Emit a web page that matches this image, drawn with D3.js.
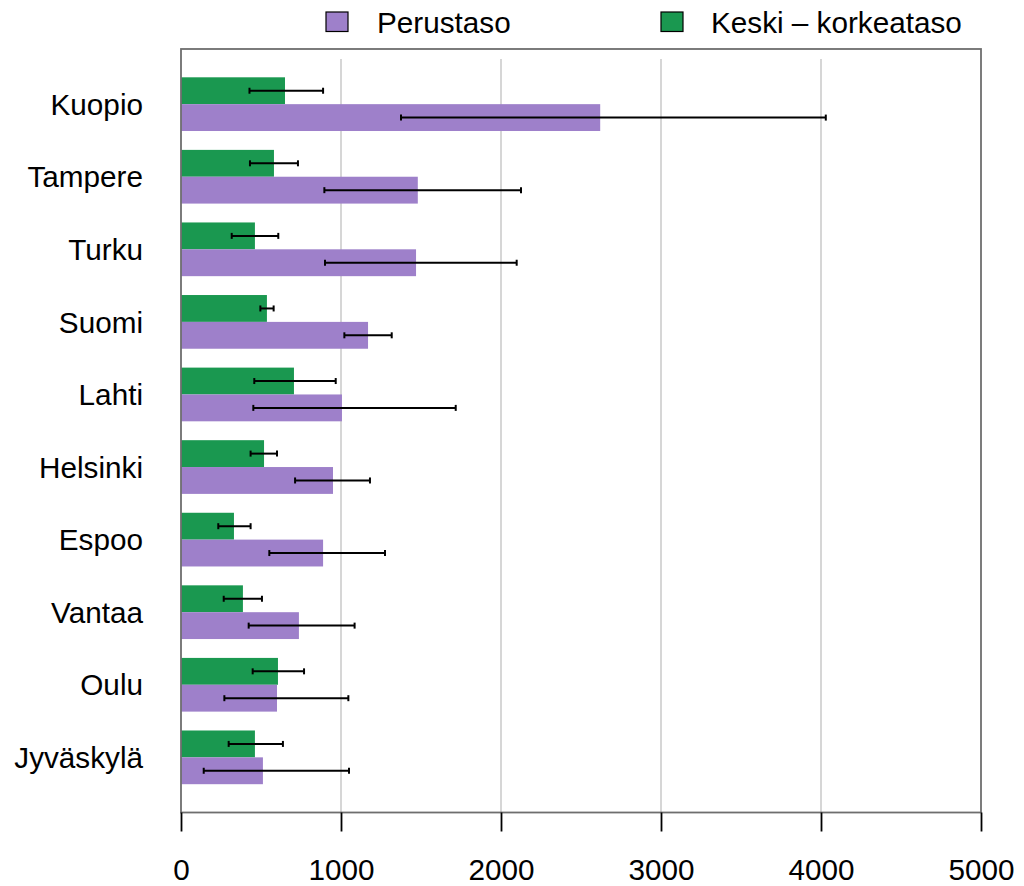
<!DOCTYPE html>
<html>
<head>
<meta charset="utf-8">
<script src="https://cdn.jsdelivr.net/npm/d3@7"></script>
<style>
  html, body { margin: 0; padding: 0; background: #fff; }
  svg { display: block; font-family: "Liberation Sans", Arial, Helvetica, sans-serif; }
</style>
</head>
<body>
<svg id="chart" width="1024" height="886"></svg>
<script>
const categories = ["Kuopio", "Tampere", "Turku", "Suomi", "Lahti", "Helsinki", "Espoo", "Vantaa", "Oulu", "Jyväskylä"];
const seriesNames = ["Perustaso", "Keski – korkeataso"];
const perustaso     = [2620, 1480, 1469, 1169, 1006, 950, 888, 737, 600, 512];
const perustasoLow  = [1375, 896, 900, 1021, 452, 713, 552, 423, 271, 142];
const perustasoHigh = [4030, 2125, 2098, 1317, 1717, 1181, 1275, 1085, 1046, 1050];
const keski         = [650, 581, 462, 537, 706, 519, 331, 387, 606, 462];
const keskiLow      = [428, 431, 317, 496, 458, 435, 233, 267, 448, 298];
const keskiHigh     = [888, 731, 608, 579, 967, 600, 435, 506, 769, 637];
const xTicks = [0, 1000, 2000, 3000, 4000, 5000];
const colors = ["#9e80ca", "#1a9850"];

(function () {
const svg = d3.select("#chart");
const pLeft = 181, pRight = 981, pTop = 49, pBottom = 812.5;
const fontSize = 29.7;

const x = d3.scaleLinear().domain([0, 5000]).range([pLeft, pRight]);
const y = d3.scaleBand().domain(categories).range([pTop, pBottom]).paddingInner(0.26).paddingOuter(0.39);
// within a group: green (Keski) on top, purple (Perustaso) below
const sub = d3.scaleBand().domain(["keski", "perustaso"]).range([0, y.bandwidth()]).padding(0);

const rows = categories.map((c, i) => ({
  cat: c,
  bars: [
    { key: "keski", v: keski[i], lo: keskiLow[i], hi: keskiHigh[i], color: colors[1] },
    { key: "perustaso", v: perustaso[i], lo: perustasoLow[i], hi: perustasoHigh[i], color: colors[0] }
  ]
}));

// grid lines
svg.append("g").selectAll("line").data(xTicks.filter(t => t > 0 && t < 5000)).join("line")
  .attr("x1", d => x(d)).attr("x2", d => x(d))
  .attr("y1", 59).attr("y2", pBottom)
  .attr("stroke", "#d6d6d6").attr("stroke-width", 2);

// bars
const g = svg.append("g").selectAll("g").data(rows).join("g")
  .attr("transform", d => `translate(0,${y(d.cat)})`);
g.selectAll("rect").data(d => d.bars).join("rect")
  .attr("x", x(0))
  .attr("y", d => sub(d.key))
  .attr("width", d => x(d.v) - x(0))
  .attr("height", sub.bandwidth())
  .attr("fill", d => d.color);

// error bars
const eb = g.selectAll("g.err").data(d => d.bars).join("g").attr("class", "err")
  .attr("transform", d => `translate(0,${sub(d.key) + sub.bandwidth() / 2})`);
eb.append("line")
  .attr("x1", d => x(d.lo)).attr("x2", d => x(d.hi))
  .attr("y1", 0).attr("y2", 0)
  .attr("stroke", "#000").attr("stroke-width", 2);
eb.append("line")
  .attr("x1", d => x(d.lo)).attr("x2", d => x(d.lo))
  .attr("y1", -3).attr("y2", 3)
  .attr("stroke", "#000").attr("stroke-width", 2);
eb.append("line")
  .attr("x1", d => x(d.hi)).attr("x2", d => x(d.hi))
  .attr("y1", -3).attr("y2", 3)
  .attr("stroke", "#000").attr("stroke-width", 2);

// frame
svg.append("rect")
  .attr("x", pLeft).attr("y", pTop)
  .attr("width", pRight - pLeft).attr("height", pBottom - pTop)
  .attr("fill", "none").attr("stroke", "#6e6e6e").attr("stroke-width", 1.8);

// category labels
svg.append("g").selectAll("text").data(categories).join("text")
  .attr("x", 143)
  .attr("y", d => y(d) + y.bandwidth() / 2)
  .attr("dy", "0.36em")
  .attr("text-anchor", "end")
  .attr("font-size", fontSize)
  .attr("fill", "#000")
  .text(d => d);

// x axis
const xAxis = d3.axisBottom(x).tickValues(xTicks).tickSize(19).tickPadding(27).tickFormat(d3.format("d"));
const ax = svg.append("g").attr("transform", `translate(0,${pBottom})`).call(xAxis);
ax.select(".domain").remove();
ax.selectAll(".tick line").attr("stroke", "#000").attr("stroke-width", 1.8);
ax.selectAll(".tick text")
  .attr("font-size", fontSize)
  .attr("font-family", "'Liberation Sans', Arial, Helvetica, sans-serif")
  .attr("fill", "#000");

// legend
const legendItems = [
  { name: seriesNames[0], color: colors[0], sx: 326, tx: 377 },
  { name: seriesNames[1], color: colors[1], sx: 661, tx: 711 }
];
const lg = svg.append("g").selectAll("g").data(legendItems).join("g");
lg.append("rect")
  .attr("x", d => d.sx).attr("y", 12)
  .attr("width", 22).attr("height", 19.5)
  .attr("fill", d => d.color).attr("stroke", "#000").attr("stroke-width", 1.2);
lg.append("text")
  .attr("x", d => d.tx).attr("y", 22)
  .attr("dy", "0.36em")
  .attr("font-size", fontSize)
  .attr("fill", "#000")
  .text(d => d.name);
})();
</script>
</body>
</html>
